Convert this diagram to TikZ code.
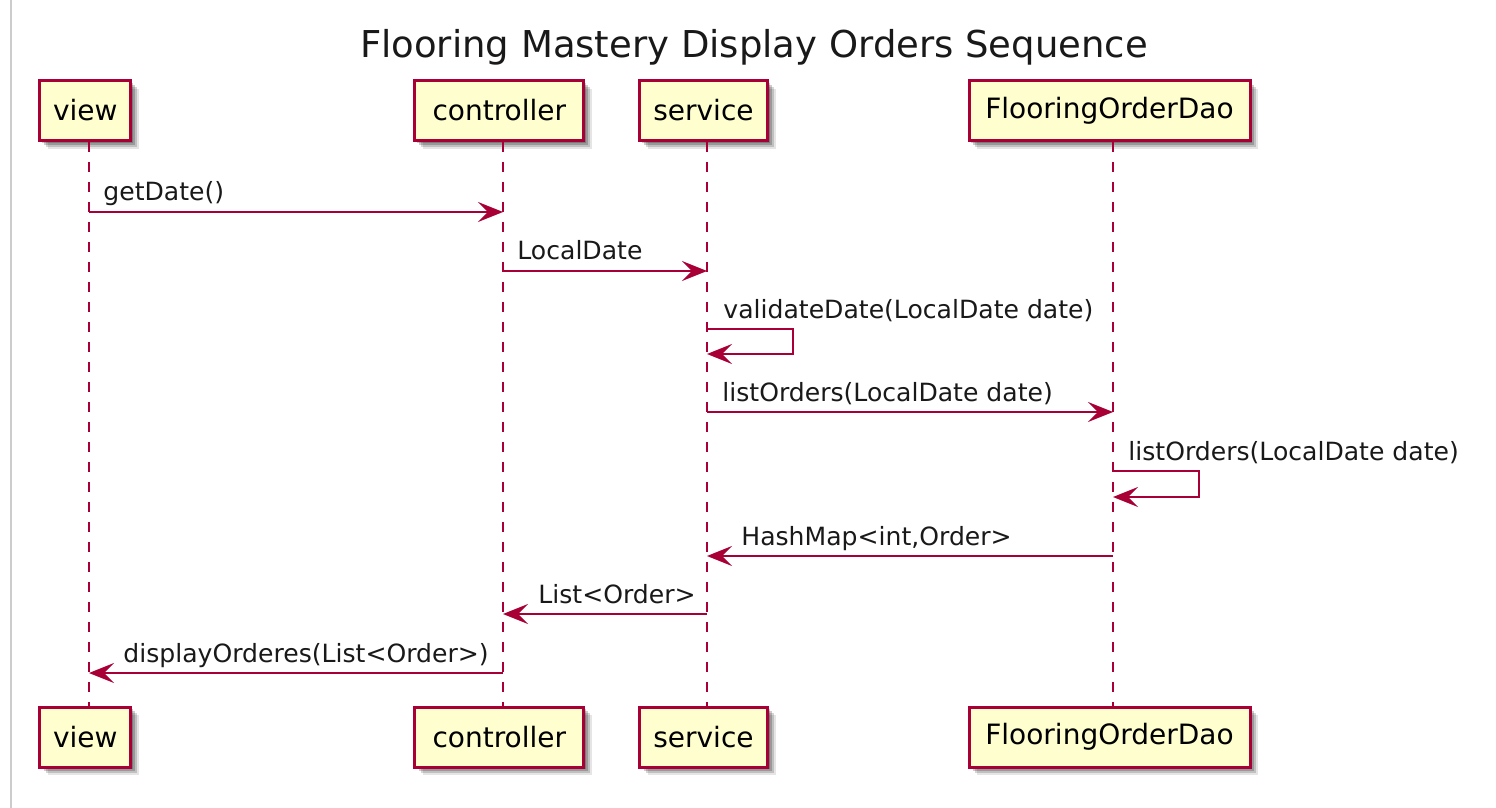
\documentclass[tikz,border=0pt]{standalone}
\usepackage{fontspec}
\setmainfont{DejaVu Sans}
\usetikzlibrary{arrows.meta,shadows}
\definecolor{pborder}{HTML}{A80036}
\definecolor{pfill}{HTML}{FEFECE}
\tikzset{
  participant/.style={draw=pborder, fill=pfill, line width=1.5pt, inner sep=0pt,
    minimum height=30pt, font=\fontsize{14pt}{16pt}\selectfont,
    drop shadow={shadow xshift=1.2pt, shadow yshift=-1.2pt, opacity=.2, fill=black},
    drop shadow={shadow xshift=2.2pt, shadow yshift=-2.2pt, opacity=.2, fill=black},
    drop shadow={shadow xshift=3.2pt, shadow yshift=-3.2pt, opacity=.16, fill=black},
    drop shadow={shadow xshift=4.2pt, shadow yshift=-4.2pt, opacity=.1, fill=black}},
  lifeline/.style={draw=pborder, line width=1pt, dash pattern=on 5pt off 5pt},
  msg/.style={draw=pborder, line width=1pt, -{Stealth[length=12.5pt, width=10pt, inset=5pt]}},
  msglabel/.style={anchor=base west, inner sep=0pt, text=black!90, font=\fontsize{12.55pt}{15pt}\selectfont},
  titlelabel/.style={anchor=base, inner sep=0pt, text=black!90, font=\fontsize{18.5pt}{22pt}\selectfont}
}
\begin{document}
\begin{tikzpicture}[x=0.5pt, y=-0.5pt]
\useasboundingbox (0,0) rectangle (1496,808);
\fill[white] (0,0) rectangle (1496,808);
\draw[black!20, line width=1pt] (11,0) -- (11,808);

\node[titlelabel] (title) at (754,58) {Flooring Mastery Display Orders Sequence};

% participants top
\node[participant, minimum width=45.5pt] (viewT) at (85.3,110.5) {view};
\node[participant, minimum width=84.5pt] (ctrlT) at (499.3,110.5) {controller};
\node[participant, minimum width=64pt] (servT) at (703.5,110.5) {service};
\node[participant, minimum width=140.5pt] (daoT) at (1109.5,110.5) {FlooringOrderDao};
% participants bottom
\node[participant, minimum width=45.5pt] (viewB) at (85.3,737) {view};
\node[participant, minimum width=84.5pt] (ctrlB) at (499.3,737) {controller};
\node[participant, minimum width=64pt] (servB) at (703.5,737) {service};
\node[participant, minimum width=140.5pt] (daoB) at (1109.5,737) {FlooringOrderDao};

% lifelines
\coordinate (lv1) at (89,142); \coordinate (lv2) at (89,706);
\coordinate (lc1) at (503,142); \coordinate (lc2) at (503,706);
\coordinate (ls1) at (707,142); \coordinate (ls2) at (707,706);
\coordinate (ld1) at (1113,142); \coordinate (ld2) at (1113,706);
\draw[lifeline] (lv1) -- (lv2);
\draw[lifeline] (lc1) -- (lc2);
\draw[lifeline] (ls1) -- (ls2);
\draw[lifeline] (ld1) -- (ld2);

% message endpoints
\coordinate (m1a) at (89,212);  \coordinate (m1b) at (503,212);
\coordinate (m2a) at (503,271); \coordinate (m2b) at (707,271);
\coordinate (m3a) at (707,329); \coordinate (m3b) at (793,329);
\coordinate (m3c) at (793,354); \coordinate (m3d) at (707,354);
\coordinate (m4a) at (707,412); \coordinate (m4b) at (1113,412);
\coordinate (m5a) at (1113,471); \coordinate (m5b) at (1199,471);
\coordinate (m5c) at (1199,497); \coordinate (m5d) at (1113,497);
\coordinate (m6a) at (1113,556); \coordinate (m6b) at (707,556);
\coordinate (m7a) at (707,614); \coordinate (m7b) at (503,614);
\coordinate (m8a) at (503,673); \coordinate (m8b) at (89,673);

\draw[msg] (m1a) -- (m1b);
\draw[msg] (m2a) -- (m2b);
\draw[msg] (m3a) -- (m3b) -- (m3c) -- (m3d);
\draw[msg] (m4a) -- (m4b);
\draw[msg] (m5a) -- (m5b) -- (m5c) -- (m5d);
\draw[msg] (m6a) -- (m6b);
\draw[msg] (m7a) -- (m7b);
\draw[msg] (m8a) -- (m8b);

\node[msglabel] (l1) at (103,201) {getDate()};
\node[msglabel] (l2) at (517,260) {LocalDate};
\node[msglabel] (l3) at (723,318) {validateDate(LocalDate date)};
\node[msglabel] (l4) at (722,401) {listOrders(LocalDate date)};
\node[msglabel] (l5) at (1128,460) {listOrders(LocalDate date)};
\node[msglabel] (l6) at (741,545) {HashMap<int,Order>};
\node[msglabel] (l7) at (538,603) {List<Order>};
\node[msglabel] (l8) at (123,662) {displayOrderes(List<Order>)};
\end{tikzpicture}
\end{document}
